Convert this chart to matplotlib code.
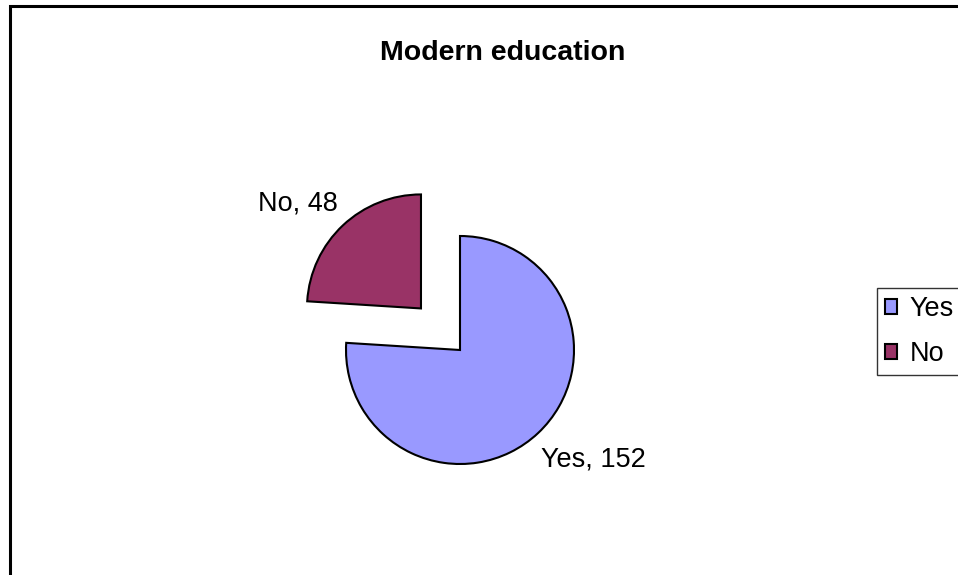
import matplotlib
matplotlib.use('Agg')
import matplotlib.pyplot as plt
from matplotlib.patches import Rectangle

plt.rcParams['font.family'] = ['Liberation Sans', 'DejaVu Sans']

# data
categories = ['Yes', 'No']
values = [152, 48]
colors = ['#9999FF', '#993366']
explode = [0, 0.5]  # fraction of the radius

W, H = 958, 575
R = 114
fig = plt.figure(figsize=(W / 100, H / 100), dpi=100)
ax = fig.add_axes([0, 0, 1, 1])

# chart frame (cut off on the right and bottom)
ax.add_patch(Rectangle((10, -20), 1000, H - 6 + 20, fill=False,
                       edgecolor='black', linewidth=2.2, clip_on=False))

# matplotlib explode is in data units, so scale by radius
wedges, _ = ax.pie(values, colors=colors, explode=[e * R for e in explode],
                   startangle=90, counterclock=False,
                   center=(460, H - 350), radius=R,
                   wedgeprops=dict(edgecolor='black', linewidth=1.5),
                   frame=True)
ax.set_xlim(0, W)
ax.set_ylim(0, H)
ax.set_aspect('equal')
ax.axis('off')

# data labels
ax.text(541, H - 459, f'{categories[0]}, {values[0]}', ha='left',
        va='center', fontsize=19.5)
ax.text(338, H - 203, f'{categories[1]}, {values[1]}', ha='right',
        va='center', fontsize=19.5)

fig.text(503 / W, 1 - 53 / H, 'Modern education', ha='center', va='center',
         fontsize=20.5, fontweight='bold')

leg = ax.legend(wedges, categories, loc='upper left',
                bbox_to_anchor=(877 / W, 1 - 288 / H),
                bbox_transform=fig.transFigure, fontsize=19.5,
                frameon=True, fancybox=False, borderaxespad=0,
                handlelength=0.45, handleheight=0.45, handletextpad=0.45,
                labelspacing=0.7, borderpad=0.3)
leg.get_frame().set_edgecolor('black')
leg.get_frame().set_linewidth(1)
for h in leg.legend_handles:
    h.set_linewidth(1.5)

fig.savefig('out.png', dpi=100)
